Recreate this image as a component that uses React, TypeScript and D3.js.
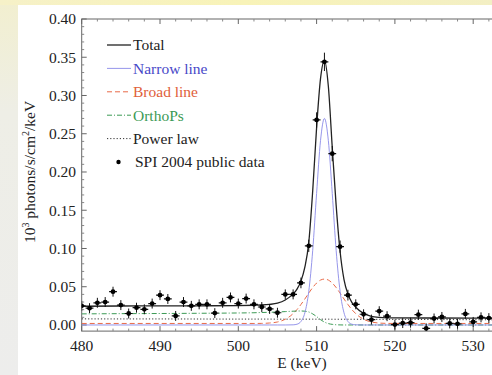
import React from "react";
import * as d3 from "d3";

// ---- data ----
const dataE = [480,481,482,483,484,485,486,487,488,489,490,491,492,493,494,495,496,497,498,499,500,501,502,503,504,505,506,507,508,509,510,511,512,513,514,515,516,517,518,519,520,521,522,523,524,525,526,527,528,529,530,531,532];
const dataFlux = [0.025,0.022,0.029,0.030,0.0435,0.026,0.015,0.0226,0.0205,0.028,0.039,0.034,0.0118,0.030,0.025,0.027,0.027,0.0155,0.029,0.036,0.028,0.0345,0.027,0.0235,0.021,0.016,0.040,0.040,0.055,0.1035,0.268,0.344,0.224,0.1024,0.039,0.027,0.014,0.007,0.018,0.0115,0.0005,0.0025,0.003,0.0135,-0.0045,0.0085,0.0105,0.002,0.0015,0.0145,0.004,0.010,0.009];
const dataErr = [0.0065,0.0065,0.0065,0.0065,0.0065,0.0065,0.0065,0.0065,0.0065,0.0065,0.0065,0.0065,0.0065,0.0065,0.0065,0.0065,0.0065,0.0065,0.0065,0.0065,0.0065,0.0065,0.0065,0.0065,0.0065,0.0065,0.0065,0.0065,0.007,0.008,0.010,0.012,0.010,0.008,0.007,0.0065,0.0065,0.0065,0.0065,0.0065,0.0065,0.0065,0.0065,0.0065,0.0065,0.0065,0.0065,0.0065,0.0065,0.0065,0.0065,0.0065,0.0065];

const modelE = [480,485,490,495,500,502,503,504,505,506,507,507.5,508,508.5,509,509.5,510,510.5,511,511.5,512,512.5,513,513.5,514,514.5,515,516,517,518,519,520,525,530,536];
const totalModel = [0.0245,0.0248,0.0249,0.0251,0.0254,0.0258,0.0261,0.0269,0.0285,0.0326,0.0406,0.0469,0.0573,0.0755,0.108,0.175,0.258,0.322,0.346,0.312,0.232,0.156,0.096,0.0594,0.0405,0.0296,0.0232,0.0152,0.0114,0.0099,0.0094,0.0093,0.0091,0.0089,0.0087];
const narrowModel = [0,0,0,0,0,0,0,0,0,0,0.0002,0.001,0.0046,0.0159,0.044,0.097,0.172,0.241,0.27,0.241,0.172,0.097,0.044,0.0159,0.0046,0.001,0.0002,0,0,0,0,0,0,0,0];
const broadModel = [0.002,0.002,0.002,0.002,0.002,0.002,0.0021,0.0026,0.0039,0.0075,0.0148,0.0202,0.0268,0.034,0.0417,0.0489,0.0548,0.0587,0.060,0.0587,0.0548,0.0489,0.0417,0.034,0.0268,0.0202,0.0148,0.0075,0.0039,0.0025,0.0021,0.002,0.002,0.002,0.002];
const orthoModel = [0.0145,0.0148,0.015,0.0153,0.0157,0.016,0.0163,0.0166,0.017,0.0175,0.018,0.0182,0.0183,0.018,0.017,0.0145,0.011,0.007,0.0038,0.0018,0.0008,0.0003,0.0001,0,0,0,0,0,0,0,0,0,0,0,0];
const powerModel = [0.008,0.0079,0.0079,0.0078,0.0077,0.0077,0.0077,0.0077,0.0076,0.0076,0.0076,0.0076,0.0076,0.0076,0.0076,0.0076,0.0076,0.0076,0.0076,0.0076,0.0075,0.0075,0.0075,0.0075,0.0075,0.0075,0.0075,0.0074,0.0074,0.0074,0.0073,0.0073,0.0071,0.0069,0.0067];

const xTicks = [480, 490, 500, 510, 520, 530];
const yTicks = [0, 0.05, 0.1, 0.15, 0.2, 0.25, 0.3, 0.35, 0.4];

const legendItems = [
  { label: "Total", color: "#222", text: "#222", dash: "", kind: "line", w: 1.3 },
  { label: "Narrow line", color: "#8a8ae8", text: "#4848c8", dash: "", kind: "line", w: 0.9 },
  { label: "Broad line", color: "#e86a48", text: "#e0603a", dash: "5,3", kind: "line", w: 1 },
  { label: "OrthoPs", color: "#3c9a55", text: "#3c9a55", dash: "5,2,1,2", kind: "line", w: 1 },
  { label: "Power law", color: "#333", text: "#222", dash: "1.2,2", kind: "line", w: 1 },
  { label: "SPI 2004 public data", color: "#000", text: "#222", dash: "", kind: "dot", w: 1 },
];

const W = 492, H = 375;
const FONT = "'Liberation Serif', 'Times New Roman', serif";

export default function App() {
  const x = d3.scaleLinear().domain([480, 535]).range([81.7, 81.7 + 55 * 7.83]);
  const y = d3.scaleLinear().domain([-0.008, 0.40]).range([331.1, 19]);
  const left = x(480), right = x(535), top = y(0.40), bottom = y(-0.008);

  const line = (vals: number[]) =>
    d3.line<number>()
      .x((_, i) => x(modelE[i]))
      .y((v) => y(v))
      .curve(d3.curveMonotoneX)(vals) || "";

  const minorX = d3.range(480, 536, 2).filter((v) => v % 10 !== 0);
  const minorY = d3.range(0, 0.4001, 0.01).filter((v) => Math.abs(v * 20 - Math.round(v * 20)) > 1e-6);

  const series = [
    { vals: powerModel, color: "#333", dash: "1.2,2", w: 1 },
    { vals: broadModel, color: "#e86a48", dash: "5,3", w: 1 },
    { vals: orthoModel, color: "#3c9a55", dash: "5,2,1,2", w: 1 },
    { vals: narrowModel, color: "#8a8ae8", dash: "", w: 0.9 },
    { vals: totalModel, color: "#222", dash: "", w: 1.3 },
  ];

  return (
    <svg width={W} height={H} style={{ position: "absolute", left: 0, top: 0 }} fontFamily={FONT}>
      <defs>
        <linearGradient id="topg" x1="0" y1="0" x2="1" y2="0">
          <stop offset="0" stopColor="#f6f1c8" />
          <stop offset="0.5" stopColor="#f8f3b8" />
          <stop offset="1" stopColor="#f3efc4" />
        </linearGradient>
        <linearGradient id="leftg" x1="0" y1="0" x2="0" y2="1">
          <stop offset="0" stopColor="#f2efcf" />
          <stop offset="0.3" stopColor="#eeeee6" />
          <stop offset="1" stopColor="#ededec" />
        </linearGradient>
        <clipPath id="plotclip">
          <rect x={left} y={top} width={right - left} height={bottom - top} />
        </clipPath>
      </defs>
      <rect x={0} y={0} width={W} height={H} fill="#ffffff" />
      <rect x={0} y={0} width={18} height={H} fill="url(#leftg)" />
      <rect x={0} y={0} width={W} height={5} fill="url(#topg)" />

      {/* frame */}
      <rect x={left} y={top} width={right - left} height={bottom - top} fill="none" stroke="#666" strokeWidth={1} />

      {/* x ticks */}
      {xTicks.map((t) => (
        <g key={"xt" + t}>
          <line x1={x(t)} x2={x(t)} y1={bottom} y2={bottom - 5} stroke="#666" />
          <line x1={x(t)} x2={x(t)} y1={top} y2={top + 5} stroke="#666" />
          <text x={x(t)} y={351} fontSize={15.5} textAnchor="middle" fill="#222">{t}</text>
        </g>
      ))}
      {minorX.map((t) => (
        <g key={"xm" + t}>
          <line x1={x(t)} x2={x(t)} y1={bottom} y2={bottom - 2.5} stroke="#888" />
          <line x1={x(t)} x2={x(t)} y1={top} y2={top + 2.5} stroke="#888" />
        </g>
      ))}
      {/* y ticks */}
      {yTicks.map((t) => (
        <g key={"yt" + t}>
          <line x1={left} x2={left + 5} y1={y(t)} y2={y(t)} stroke="#666" />
          <text x={76} y={y(t)} dy="0.35em" fontSize={15.5} textAnchor="end" fill="#222">{t.toFixed(2)}</text>
        </g>
      ))}
      {minorY.map((t, i) => (
        <line key={"ym" + i} x1={left} x2={left + 2.5} y1={y(t)} y2={y(t)} stroke="#888" />
      ))}

      {/* axis titles */}
      <text x={302} y={368} fontSize={15.5} textAnchor="middle" fill="#222">E (keV)</text>
      <text transform="translate(35,172) rotate(-90)" fontSize={15.5} textAnchor="middle" fill="#222">
        10<tspan dy={-6} fontSize={10}>3</tspan>
        <tspan dy={6}> photons/s/cm</tspan>
        <tspan dy={-6} fontSize={10}>2</tspan>
        <tspan dy={6}>/keV</tspan>
      </text>

      {/* model curves */}
      <g clipPath="url(#plotclip)">
        {series.map((s, i) => (
          <path key={"s" + i} d={line(s.vals)} fill="none" stroke={s.color} strokeWidth={s.w} strokeDasharray={s.dash} />
        ))}
        {/* data points */}
        {dataE.map((e, i) => (
          <g key={"d" + e}>
            <line x1={x(e)} x2={x(e)} y1={y(dataFlux[i] - dataErr[i])} y2={y(dataFlux[i] + dataErr[i])} stroke="#111" strokeWidth={1} />
            <line x1={x(e - 0.5)} x2={x(e + 0.5)} y1={y(dataFlux[i])} y2={y(dataFlux[i])} stroke="#111" strokeWidth={1.2} />
            <circle cx={x(e)} cy={y(dataFlux[i])} r={2.4} fill="#000" />
          </g>
        ))}
      </g>

      {/* legend */}
      {legendItems.map((it, i) => {
        const yy = 45 + i * 23.4;
        return (
          <g key={"lg" + i}>
            {it.kind === "line" ? (
              <line x1={107} x2={131} y1={yy} y2={yy} stroke={it.color} strokeWidth={it.w} strokeDasharray={it.dash} />
            ) : (
              <circle cx={118.5} cy={yy} r={2.2} fill="#000" />
            )}
            <text x={it.kind === "line" ? 133 : 135} y={yy} dy="0.35em" fontSize={15.5} fill={it.text}>{it.label}</text>
          </g>
        );
      })}
    </svg>
  );
}
